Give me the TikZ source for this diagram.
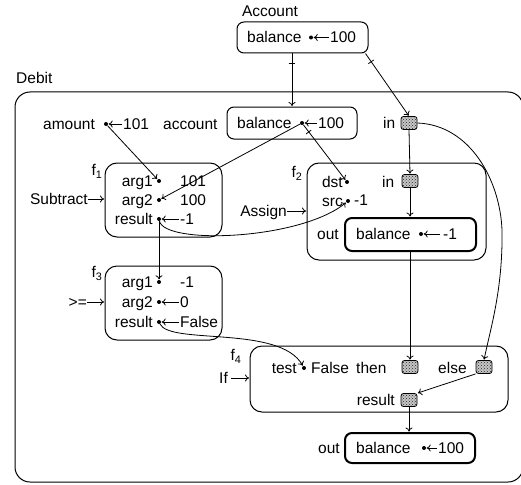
\documentclass[tikz,border=0pt]{standalone}
\usepackage{fontspec}
\setmainfont{Liberation Sans}
\usetikzlibrary{arrows.meta,decorations.markings,patterns,calc}
\begin{document}
\begin{tikzpicture}[x=1pt,y=-1pt,
  every node/.style={font=\fontsize{15.5}{18}\selectfont},
  txt/.style={inner sep=0pt, text height=11pt, text depth=0pt},
  dotn/.style={circle, fill, inner sep=0pt, minimum size=4pt},
  sq/.style={draw, line width=0.8pt, rounded corners=2.5pt, minimum width=16pt, minimum height=13pt, inner sep=0pt, preaction={fill=gray!45}, pattern=crosshatch dots, pattern color=black!85},
  frame/.style={draw, line width=1pt, rounded corners=7pt, inner sep=0pt},
  fbox/.style={draw, line width=1pt, rounded corners=12pt, inner sep=0pt},
  boldbox/.style={draw, line width=2pt, rounded corners=7pt, inner sep=0pt},
  conn/.style={line width=0.8pt, -{To[length=4pt,width=7pt]}, shorten >=0.5pt},
  tickmark/.style={postaction={decorate}, decoration={markings, mark=at position #1 with {\draw[-, line width=0.8pt] (0pt,-3.5pt) -- (0pt,3.5pt);}}},
]
\useasboundingbox (0,0) rectangle (521,484);

% ---------- Account ----------
\node[txt] (acclbl) at (270,11) {Account};
\node[frame, minimum width=131pt, minimum height=31pt] (accbox) at (302.5,37.5) {};
\node[txt, anchor=west] (accbal) at (247,37.5) {balance};
\node[dotn] (accdot) at (311,37.5) {};
\node[txt, anchor=west] (accval) at (330,37.5) {100};
\draw[conn, shorten <=1pt] (accval.west) -- (accdot);

% ---------- Debit ----------
\node[txt, anchor=west] (deblbl) at (16,78) {Debit};
\node[draw, line width=1pt, rounded corners=15pt, minimum width=508pt, minimum height=390pt, inner sep=0pt] (debit) at (269,287) {};

% amount / account row
\node[txt, anchor=west] (amtlbl) at (43,124) {amount};
\node[dotn] (amtdot) at (106,124) {};
\node[txt, anchor=west] (amtval) at (123,124) {101};
\draw[conn, shorten <=1pt] (amtval.west) -- (amtdot);
\node[txt, anchor=west] (acctlbl) at (163,124) {account};
\node[frame, minimum width=130pt, minimum height=32pt] (bbox) at (292,123) {};
\node[txt, anchor=west] (bbal) at (237,123) {balance};
\node[dotn] (bdot) at (302,123) {};
\node[txt, anchor=west] (bval) at (318,123) {100};
\draw[conn, shorten <=1pt] (bval.west) -- (bdot);
\node[txt, anchor=west] (inlbl) at (383,123) {in};
\node[sq] (insq) at (409,123) {};

% ---------- f1 ----------
\node[fbox, minimum width=117pt, minimum height=74pt] (fa) at (163.5,200) {};
\node[txt] (falbl) at (97,170) {f\textsubscript{1}};
\node[txt, anchor=east] (fa1) at (153,181) {arg1};
\node[dotn] (fa1dot) at (159,181) {};
\node[txt, anchor=west] (fa1val) at (180,181) {101};
\node[txt, anchor=east] (fa2) at (153,200) {arg2};
\node[dotn] (fa2dot) at (159,200) {};
\node[txt, anchor=west] (fa2val) at (180,200) {100};
\node[txt, anchor=east] (far) at (153,219) {result};
\node[dotn] (fardot) at (159,219) {};
\node[txt, anchor=west] (farval) at (180,219) {-1};
\draw[conn, shorten <=1pt] (farval.west) -- (fardot);
\node[txt, anchor=east] (sublbl) at (88,199) {Subtract};
\draw[conn] (sublbl.east) -- (fa.west |- sublbl.east);

% ---------- f2 ----------
\node[fbox, minimum width=179pt, minimum height=97pt] (fb) at (396.5,211.5) {};
\node[txt] (fblbl) at (297,172) {f\textsubscript{2}};
\node[txt, anchor=east] (fbdst) at (343,182) {dst};
\node[dotn] (dstdot) at (347,182) {};
\node[txt, anchor=west] (fbinlbl) at (382,182) {in};
\node[sq] (fbin) at (410,181) {};
\node[txt, anchor=east] (fbsrc) at (343,201) {src};
\node[dotn] (srcdot) at (348,201) {};
\node[txt, anchor=west] (srcval) at (354,200) {-1};
\node[txt, anchor=west] (fbout) at (317,234) {out};
\node[boldbox, minimum width=131pt, minimum height=33pt] (fbbox) at (410.5,234.5) {};
\node[txt, anchor=west] (fbbal) at (356,234) {balance};
\node[dotn] (fbdot) at (421,234) {};
\node[txt, anchor=west] (fbval) at (443,234) {-1};
\draw[conn, shorten <=3pt] (fbval.west) -- (fbdot);
\node[txt, anchor=east] (asglbl) at (287,211) {Assign};
\draw[conn] (asglbl.east) -- (fb.west |- asglbl.east);

% ---------- f3 ----------
\node[fbox, minimum width=117pt, minimum height=74pt] (fc) at (163.5,303) {};
\node[txt] (fclbl) at (97,272) {f\textsubscript{3}};
\node[txt, anchor=east] (fc1) at (153,282) {arg1};
\node[dotn] (fc1dot) at (159,282) {};
\node[txt, anchor=west] (fc1val) at (180,282) {-1};
\node[txt, anchor=east] (fc2) at (153,302) {arg2};
\node[dotn] (fc2dot) at (159,302) {};
\node[txt, anchor=west] (fc2val) at (180,302) {0};
\draw[conn, shorten <=1pt] (fc2val.west) -- (fc2dot);
\node[txt, anchor=east] (fcr) at (153,322) {result};
\node[dotn] (fcrdot) at (159,322) {};
\node[txt, anchor=west] (fcrval) at (180,322) {False};
\draw[conn, shorten <=1pt] (fcrval.west) -- (fcrdot);
\node[txt, anchor=east] (gelbl) at (87,302) {>=};
\draw[conn] (gelbl.east) -- (fc.west |- gelbl.east);

% ---------- f4 ----------
\node[fbox, minimum width=258pt, minimum height=66pt] (fd) at (379,379) {};
\node[txt] (fdlbl) at (236,355) {f\textsubscript{4}};
\node[txt, anchor=east] (fdtest) at (297,368) {test};
\node[dotn] (testdot) at (304,368) {};
\node[txt, anchor=west] (testval) at (311,368) {False};
\node[txt, anchor=west] (thenlbl) at (356,368) {then};
\node[sq] (thensq) at (410,367) {};
\node[txt, anchor=west] (elselbl) at (438,368) {else};
\node[sq] (elsesq) at (484,367) {};
\node[txt, anchor=east] (fdres) at (395,400) {result};
\node[sq] (ressq) at (409,400) {};
\node[txt, anchor=east] (iflbl) at (228,378) {If};
\draw[conn, shorten <=3pt] (iflbl.east) -- (fd.west |- iflbl.east);

% ---------- out ----------
\node[txt, anchor=west] (outlbl) at (318,448) {out};
\node[boldbox, minimum width=130pt, minimum height=30pt] (outbox) at (410,448) {};
\node[txt, anchor=west] (outbal) at (356,448) {balance};
\node[dotn] (outdot) at (424,448) {};
\node[txt, anchor=west] (outval) at (438,448) {100};
\draw[conn, shorten <=1pt] (outval.west) -- (outdot);

% ---------- connectors ----------
\draw[conn, tickmark=10pt] (bbox.north |- accbox.south) -- (bbox.north);
\draw[conn, tickmark=10pt] ($(accbox.south east)+(-3,0)$) -- (insq.north);
\draw[conn] (amtdot) -- (fa1dot);
\draw[conn] (bdot) -- (fa2dot);
\draw[conn, tickmark=9pt] (bdot) -- (dstdot);
\draw[conn] (fardot) -- (fc1dot);
\draw[conn] (fardot) .. controls (165,245) and (300,240) .. (srcdot);
\draw[conn] (insq.south) -- (fbin.north);
\draw[conn] (fbin.south) -- (fbin.south |- fbbox.north);
\draw[conn] (insq.east) .. controls (470,125) and (500,180) .. (502,230) .. controls (503,290) and (490,330) .. (elsesq.north);
\draw[conn] (thensq.north |- fbbox.south) -- (thensq.north);
\draw[conn] (fcrdot) .. controls (170,345) and (280,325) .. (testdot);
\draw[conn] (elsesq.south west) -- (ressq.north east);
\draw[conn] (ressq.south) -- (ressq.south |- outbox.north);
\end{tikzpicture}
\end{document}
